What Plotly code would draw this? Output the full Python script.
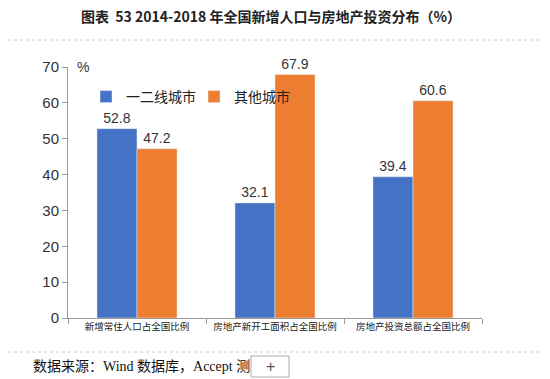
import plotly.graph_objects as go

categories = ["新增常住人口占全国比例", "房地产新开工面积占全国比例", "房地产投资总额占全国比例"]
series_names = ["一二线城市", "其他城市"]
tier12 = [52.8, 32.1, 39.4]
others = [47.2, 67.9, 60.6]
y_ticks = [0, 10, 20, 30, 40, 50, 60, 70]

colors = ["#4472C4", "#ED7D31"]

fig = go.Figure()
for name, vals, c in zip(series_names, [tier12, others], colors):
    fig.add_trace(go.Bar(
        x=categories, y=vals, name=name, marker_color=c,
        text=[f"{v:.1f}" for v in vals], textposition="outside",
        textfont=dict(size=14, color="#333333", family="Liberation Sans, Arial"),
        cliponaxis=False,
    ))

OFF = 8  # page body margin
W, H = 550 - OFF, 379 - OFF
PL, PR, PT, PB = 68, 482, 67, 318  # plot area in screen pixels
L, R, T, B = PL - OFF, 550 - PR, PT - OFF, 379 - PB
pw, ph = PR - PL, PB - PT

def px(x):
    return (x - PL) / pw

def py(y):
    return (PB - y) / ph

fig.update_layout(
    width=W, height=H,
    margin=dict(l=L, r=R, t=T, b=B, autoexpand=False),
    paper_bgcolor="white", plot_bgcolor="white",
    barmode="group", bargap=0.42, bargroupgap=0,
    showlegend=True,
    legend=dict(orientation="h", x=px(86), y=py(97), xanchor="left", yanchor="middle",
                font=dict(size=14, color="#222222", family="Noto Sans CJK SC"),
                bgcolor="rgba(0,0,0,0)", itemwidth=30, entrywidth=63, traceorder="normal"),
    font=dict(family="Noto Sans CJK SC", color="#333333"),
    xaxis=dict(showline=True, linecolor="#999999", linewidth=1, ticks="outside",
               tickson="boundaries", ticklen=5, tickcolor="#999999", tickangle=0,
               automargin=False,
               tickfont=dict(size=9.5, color="#222222", family="Noto Sans CJK SC"),
               showgrid=False),
    yaxis=dict(range=[0, 70], tickvals=y_ticks, showline=True, linecolor="#999999",
               linewidth=1, ticks="outside", ticklen=5, tickcolor="#999999",
               automargin=False,
               tickfont=dict(size=15, color="#333333", family="Liberation Sans, Arial"),
               showgrid=False, zeroline=False),
    title=dict(text="<b>图表  53 2014-2018 年全国新增人口与房地产投资分布（%）</b>",
               x=(271 - OFF) / W, xanchor="center", y=1 - (17 - OFF) / H, yanchor="middle",
               font=dict(size=14, color="#222222", family="Noto Sans CJK SC")),
)

fig.add_annotation(text="%", xref="paper", yref="paper", x=px(75), y=py(57),
                   showarrow=False, font=dict(size=14, color="#333333", family="Liberation Sans, Arial"))

for ypix in (40, 352):
    fig.add_shape(type="line", xref="paper", yref="paper", x0=px(OFF), x1=px(550),
                  y0=py(ypix), y1=py(ypix), line=dict(color="#cccccc", width=1, dash="dot"))

fig.add_annotation(text="数据来源：Wind 数据库，Accept 测", xref="paper", yref="paper",
                   x=px(31), y=py(366), xanchor="left", yanchor="middle", showarrow=False,
                   font=dict(size=14, color="#111111", family="Liberation Serif, Noto Sans CJK SC"))

fig.add_shape(type="rect", xref="paper", yref="paper", x0=px(251), x1=px(289),
              y0=py(377), y1=py(356), line=dict(color="#aaaaaa", width=1), fillcolor="white")
fig.add_annotation(text="+", xref="paper", yref="paper", x=px(270), y=py(366.5),
                   yanchor="middle", showarrow=False,
                   font=dict(size=16, color="#555555", family="Liberation Sans"))

fig.write_html("out.html")
